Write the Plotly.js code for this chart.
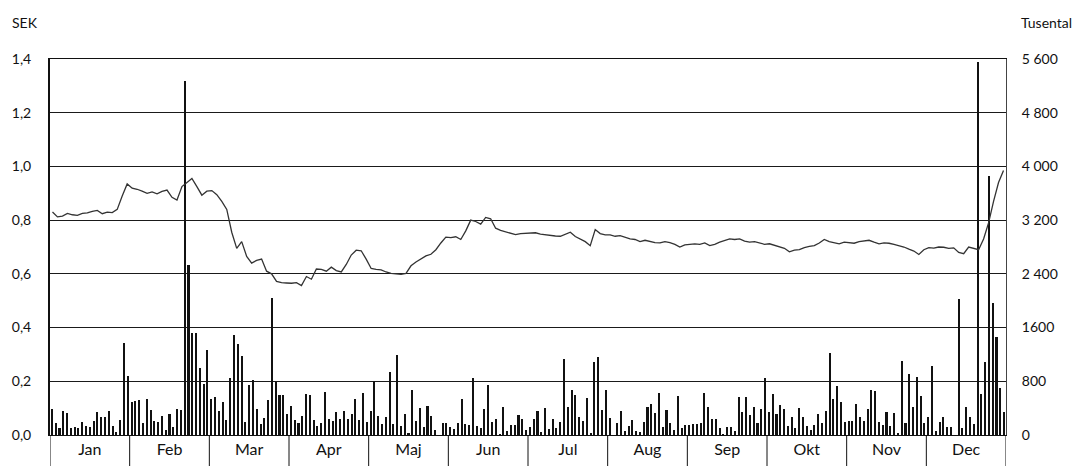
<!DOCTYPE html>
<html>
<head>
<meta charset="utf-8">
<script src="https://cdn.plot.ly/plotly-3.0.1.min.js"></script>
<style>html,body{margin:0;padding:0;background:#fff;}#chart{width:1074px;height:466px;}</style>
</head>
<body>
<div id="chart"></div>
<script>
const months = ['Jan','Feb','Mar','Apr','Maj','Jun','Jul','Aug','Sep','Okt','Nov','Dec'];

// Daily trading volume (tusental)
const volJan = [380,173,104,356,321,104,124,109,188,133,119,207,341,267,267,351,138,40,222,1373,874];
const volFeb = [494,504,514,183,534,370,212,198,277,69,316,119,380,370,5274,2530,1526,1521,993,766,1270];
const volMar = [543,568,351,494,222,855,1492,1349,1171,193,741,825,385,158,247,519,2040,795,603,593,316];
const volApr = [430,222,183,282,608,593,222,133,178,637,232,203,341,242,356,232,306,534,222,632,188];
const volMaj = [356,800,287,158,262,934,158,1186,133,306,25,677,207,395,114,430,287,69,0,183,183];
const volJun = [114,89,183,538,158,153,855,128,99,380,751,188,232,10,410,59,143,148,291,242,74];
const volJul = [124,232,351,49,395,84,242,99,193,1136,410,677,593,267,203,553,25,1087,1166,370,677];
const volAug = [257,0,183,356,64,138,217,64,49,188,420,469,321,632,114,375,173,74,583,109,143];
const volSep = [153,168,158,173,627,410,237,242,99,15,119,124,59,568,341,568,291,420,183,390,845];
const volOkt = [336,617,311,440,385,133,267,104,395,262,133,69,143,316,173,361,1225,534,726,489,193];
const volNov = [212,207,459,262,212,385,677,657,193,143,336,133,321,25,1097,183,914,410,865,588,173];
const volDec = [262,1028,54,188,262,124,114,0,2030,109,410,262,158,5560,617,1087,3858,1966,1457,706,346];

// Share price (SEK), sampled evenly through each month
const priceJan = [0.83,0.812,0.815,0.825,0.82,0.818,0.825,0.827,0.833,0.836,0.824,0.83,0.828,0.84,0.89,0.935];
const priceFeb = [0.919,0.915,0.908,0.9,0.905,0.898,0.907,0.912,0.885,0.875,0.925,0.94,0.955,0.925,0.893,0.908];
const priceMar = [0.91,0.895,0.87,0.84,0.755,0.695,0.72,0.665,0.64,0.65,0.655,0.61,0.6,0.572,0.567,0.566];
const priceApr = [0.565,0.567,0.556,0.59,0.58,0.618,0.617,0.61,0.625,0.612,0.607,0.635,0.67,0.688,0.686,0.655];
const priceMaj = [0.62,0.617,0.615,0.607,0.602,0.6,0.598,0.602,0.63,0.644,0.657,0.667,0.673,0.69,0.715,0.737];
const priceJun = [0.735,0.738,0.728,0.76,0.8,0.795,0.785,0.81,0.805,0.77,0.762,0.757,0.752,0.746,0.75,0.751];
const priceJul = [0.752,0.753,0.748,0.745,0.744,0.741,0.74,0.748,0.755,0.739,0.73,0.72,0.705,0.765,0.75,0.745];
const priceAug = [0.745,0.74,0.742,0.735,0.73,0.728,0.72,0.725,0.72,0.716,0.715,0.72,0.716,0.71,0.7,0.708];
const priceSep = [0.71,0.712,0.71,0.715,0.705,0.71,0.718,0.725,0.73,0.728,0.73,0.722,0.718,0.72,0.714,0.71];
const priceOkt = [0.712,0.706,0.7,0.695,0.682,0.688,0.69,0.698,0.702,0.705,0.715,0.728,0.72,0.715,0.712,0.718];
const priceNov = [0.716,0.714,0.72,0.722,0.725,0.718,0.712,0.715,0.714,0.71,0.705,0.7,0.692,0.685,0.672,0.69];
const priceDec = [0.698,0.696,0.7,0.699,0.695,0.697,0.68,0.675,0.7,0.695,0.69,0.73,0.79,0.87,0.94,0.985];

const sekTicks = [0,0.2,0.4,0.6,0.8,1.0,1.2,1.4];
const sekLabels = ['0,0','0,2','0,4','0,6','0,8','1,0','1,2','1,4'];
const volTicks = [0,800,1600,2400,3200,4000,4800,5600];
const volLabels = ['0','800','1600','2 400','3 200','4 000','4 800','5 600'];

const volMonths = [volJan,volFeb,volMar,volApr,volMaj,volJun,volJul,volAug,volSep,volOkt,volNov,volDec];
const priceMonths = [priceJan,priceFeb,priceMar,priceApr,priceMaj,priceJun,priceJul,priceAug,priceSep,priceOkt,priceNov,priceDec];

function spread(list){
  const xs=[], ys=[];
  list.forEach((arr,m)=>{ arr.forEach((v,i)=>{ xs.push(m+(i+0.5)/arr.length); ys.push(v); }); });
  return {xs, ys};
}
const vol = spread(volMonths);
const price = spread(priceMonths);

const FONT = 'Lato, "Open Sans", sans-serif';

const traces = [
  {type:'bar', x:vol.xs, y:vol.ys, yaxis:'y', width:0.026,
   marker:{color:'#111', line:{width:0}}, hoverinfo:'skip', showlegend:false},
  {type:'scatter', mode:'lines', x:price.xs, y:price.ys, yaxis:'y2',
   line:{color:'#333', width:1.3}, hoverinfo:'skip', showlegend:false}
];

const shapes = [];
for (let k=0;k<=12;k++){
  shapes.push({type:'line', xref:'x', yref:'paper', x0:k, x1:k, y0:0, y1:-0.085,
    line:{color:'#111', width:1}});
}

const layout = {
  width:1074, height:466,
  margin:{l:50, r:68, t:59, b:31, pad:0},
  paper_bgcolor:'#fff', plot_bgcolor:'#fff',
  font:{family:FONT, color:'#111', size:14},
  bargap:0,
  xaxis:{range:[0,12], tickvals:months.map((_,i)=>i+0.5), ticktext:months,
    ticks:'', showgrid:false, zeroline:false, showline:true, mirror:true,
    linecolor:'#111', linewidth:1, tickfont:{size:16, family:FONT}, fixedrange:true},
  yaxis:{side:'right', range:[0,5600], tickvals:volTicks, ticktext:volLabels,
    showgrid:true, gridcolor:'#1a1a1a', gridwidth:1, zeroline:false,
    showline:true, linecolor:'#444', linewidth:1, ticks:'', ticklabelstandoff:12,
    tickfont:{size:14, family:FONT}, fixedrange:true},
  yaxis2:{overlaying:'y', side:'left', range:[0,1.4], tickvals:sekTicks, ticktext:sekLabels,
    showgrid:false, zeroline:false, showline:true, linecolor:'#111', linewidth:2,
    ticks:'', ticklabelstandoff:14, tickfont:{size:14, family:FONT}, fixedrange:true},
  shapes:shapes,
  annotations:[
    {text:'SEK', xref:'paper', yref:'paper', x:-0.042, y:1.096, xanchor:'left', yanchor:'middle',
     showarrow:false, font:{size:14, family:FONT}},
    {text:'Tusental', xref:'paper', yref:'paper', x:1.0136, y:1.096, xanchor:'left', yanchor:'middle',
     showarrow:false, font:{size:14, family:FONT}}
  ],
  hovermode:false
};

Plotly.newPlot('chart', traces, layout, {staticPlot:true, displayModeBar:false});
</script>
</body>
</html>
